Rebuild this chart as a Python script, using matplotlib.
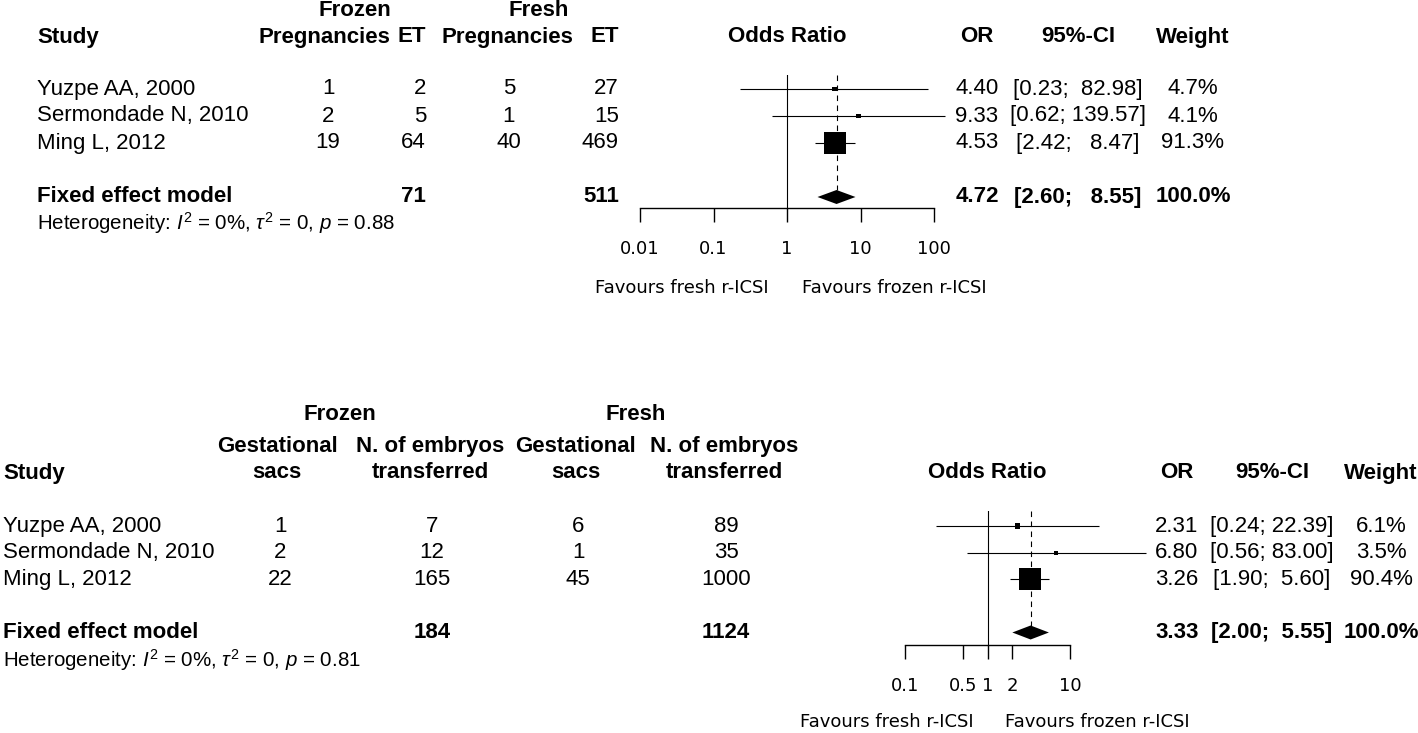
import matplotlib.pyplot as plt
from matplotlib.ticker import NullLocator
import numpy as np

W, H = 1418, 733
FS = 16
FS_HET = 14.8
FS_AX = 13

plt.rcParams['font.family'] = ['Liberation Sans', 'DejaVu Sans']
plt.rcParams['mathtext.fontset'] = 'custom'
plt.rcParams['mathtext.rm'] = 'Liberation Sans'
plt.rcParams['mathtext.it'] = 'Liberation Sans:italic'

studies = ["Yuzpe AA, 2000", "Sermondade N, 2010", "Ming L, 2012"]

# panel A: pregnancies per ET
a_ev_frozen = [1, 2, 19]
a_n_frozen = [2, 5, 64]
a_ev_fresh = [5, 1, 40]
a_n_fresh = [27, 15, 469]
a_or = [4.40, 9.33, 4.53]
a_lo = [0.23, 0.62, 2.42]
a_hi = [82.98, 139.57, 8.47]
a_w = [4.7, 4.1, 91.3]
a_fixed = [4.72, 2.60, 8.55]
a_tot = [71, 511]
a_het = ["0%", "0", "0.88"]
a_ticks = [0.01, 0.1, 1, 10, 100]

# panel B: gestational sacs per embryo transferred
b_ev_frozen = [1, 2, 22]
b_n_frozen = [7, 12, 165]
b_ev_fresh = [6, 1, 45]
b_n_fresh = [89, 35, 1000]
b_or = [2.31, 6.80, 3.26]
b_lo = [0.24, 0.56, 1.90]
b_hi = [22.39, 83.00, 5.60]
b_w = [6.1, 3.5, 90.4]
b_fixed = [3.33, 2.00, 5.55]
b_tot = [184, 1124]
b_het = ["0%", "0", "0.81"]
b_ticks = [0.1, 0.5, 1, 2, 10]

fig = plt.figure(figsize=(W / 100, H / 100), dpi=100)


def txt(x, y, s, ha='left', bold=False, size=FS, family=None):
    kw = {'family': family} if family else {}
    fig.text(x / W, 1 - y / H, s, ha=ha, va='center', fontsize=size,
             fontweight='bold' if bold else 'normal', **kw)


def ci_strings(lo, hi):
    los = [f"{v:.2f}" for v in lo]
    his = [f"{v:.2f}" for v in hi]
    wl = max(len(s) for s in los)
    wh = max(len(s) for s in his)
    return [f"[{a.rjust(wl)}; {b.rjust(wh)}]" for a, b in zip(los, his)]


def forest(x0, x1, lim, ticks, top_y, axis_y, ybase, row_h,
           orv, lo, hi, w, fixed, fav_y, fav_gap):
    k_top = (top_y - ybase) / row_h
    k_axis = (axis_y - ybase) / row_h
    ax = fig.add_axes([x0 / W, 1 - axis_y / H, (x1 - x0) / W, (axis_y - top_y) / H])
    ax.set_xscale('log')
    ax.set_xlim(lim)
    ax.set_ylim(k_axis, k_top)
    ax.patch.set_visible(False)
    for s in ['top', 'left', 'right']:
        ax.spines[s].set_visible(False)
    ax.spines['bottom'].set_linewidth(1.0)
    ax.set_yticks([])
    ax.set_xticks(ticks)
    ax.set_xticklabels([f"{t:g}" for t in ticks], family='DejaVu Sans', fontsize=FS_AX)
    ax.xaxis.set_minor_locator(NullLocator())
    ax.tick_params(axis='x', length=10, width=1.0, pad=13)

    rows = np.arange(1, len(orv) + 1)
    k_fix = len(orv) + 2
    dh = 7 / row_h
    ax.axvline(1, color='black', lw=0.8)
    ax.vlines(fixed[0], k_top, k_fix - dh, colors='black', lw=0.8,
              linestyles=(0, (5, 4)))
    ax.hlines(rows, lo, hi, colors='black', lw=0.8, clip_on=False)
    w = np.asarray(w)
    side = 22 * 0.72 * np.sqrt(w / w.max())
    ax.scatter(orv, rows, s=side ** 2, marker='s', c='black', linewidths=0,
               clip_on=False, zorder=3)
    ax.fill([fixed[1], fixed[0], fixed[2], fixed[0]],
            [k_fix, k_fix - dh, k_fix, k_fix + dh], color='black', lw=0)

    ref = x0 + (x1 - x0) * (np.log10(1) - np.log10(lim[0])) / (np.log10(lim[1]) - np.log10(lim[0]))
    txt(ref - fav_gap[0], fav_y, "Favours fresh r-ICSI", ha='right', size=FS_AX,
        family='DejaVu Sans')
    txt(ref + fav_gap[1], fav_y, "Favours frozen r-ICSI", ha='left', size=FS_AX,
        family='DejaVu Sans')
    return ref


# ---------- panel A ----------
ybA, rhA = 62, 27
txt(355, 10, "Frozen", ha='center', bold=True)
txt(539, 10, "Fresh", ha='center', bold=True)
txt(37, 37, "Study", bold=True)
txt(324, 37, "Pregnancies", ha='center', bold=True)
txt(426, 37, "ET", ha='right', bold=True)
txt(507, 37, "Pregnancies", ha='center', bold=True)
txt(619, 37, "ET", ha='right', bold=True)
txt(977, 37, "OR", ha='center', bold=True)
txt(1078, 37, "95%-CI", ha='center', bold=True)
txt(1193, 37, "Weight", ha='center', bold=True)

ciA = ci_strings(a_lo + [a_fixed[1]], a_hi + [a_fixed[2]])
for i, st in enumerate(studies):
    y = ybA + rhA * (i + 1)
    txt(37, y, st)
    txt(328, y, str(a_ev_frozen[i]), ha='center')
    txt(426, y, str(a_n_frozen[i]), ha='right')
    txt(509, y, str(a_ev_fresh[i]), ha='center')
    txt(619, y, str(a_n_fresh[i]), ha='right')
    txt(977, y, f"{a_or[i]:.2f}", ha='center')
    txt(1078, y, ciA[i], ha='center')
    txt(1193, y, f"{a_w[i]:.1f}%", ha='center')
yf = ybA + rhA * 5
txt(37, yf, "Fixed effect model", bold=True)
txt(426, yf, str(a_tot[0]), ha='right', bold=True)
txt(619, yf, str(a_tot[1]), ha='right', bold=True)
txt(977, yf, f"{a_fixed[0]:.2f}", ha='center', bold=True)
txt(1078, yf, ciA[-1], ha='center', bold=True)
txt(1193, yf, "100.0%", ha='center', bold=True)
txt(37, 223, r"Heterogeneity: $I^2$ = %s, $\tau^2$ = %s, $p$ = %s" % tuple(a_het),
    size=FS_HET)

refA = forest(640, 934, (0.01, 100), a_ticks, 75, 208, ybA, rhA,
              a_or, a_lo, a_hi, a_w, a_fixed, 288, (18, 15))
txt(refA, 37, "Odds Ratio", ha='center', bold=True)

# ---------- panel B ----------
ybB, rhB = 499.5, 26.6
txt(340, 415, "Frozen", ha='center', bold=True)
txt(636, 415, "Fresh", ha='center', bold=True)
txt(277, 447, "Gestational", ha='center', bold=True)
txt(277, 473, "sacs", ha='center', bold=True)
txt(430, 447, "N. of embryos", ha='center', bold=True)
txt(430, 473, "transferred", ha='center', bold=True)
txt(576, 447, "Gestational", ha='center', bold=True)
txt(576, 473, "sacs", ha='center', bold=True)
txt(724, 447, "N. of embryos", ha='center', bold=True)
txt(724, 473, "transferred", ha='center', bold=True)
txt(3, 473, "Study", bold=True)
txt(1177, 473, "OR", ha='center', bold=True)
txt(1272, 473, "95%-CI", ha='center', bold=True)
txt(1381, 473, "Weight", ha='center', bold=True)

ciB = ci_strings(b_lo + [b_fixed[1]], b_hi + [b_fixed[2]])
for i, st in enumerate(studies):
    y = ybB + rhB * (i + 1)
    txt(3, y, st)
    txt(280, y, str(b_ev_frozen[i]), ha='center')
    txt(432, y, str(b_n_frozen[i]), ha='center')
    txt(578, y, str(b_ev_fresh[i]), ha='center')
    txt(726, y, str(b_n_fresh[i]), ha='center')
    txt(1177, y, f"{b_or[i]:.2f}", ha='center')
    txt(1272, y, ciB[i], ha='center')
    txt(1381, y, f"{b_w[i]:.1f}%", ha='center')
yf = ybB + rhB * 5
txt(3, yf, "Fixed effect model", bold=True)
txt(432, yf, str(b_tot[0]), ha='center', bold=True)
txt(726, yf, str(b_tot[1]), ha='center', bold=True)
txt(1177, yf, f"{b_fixed[0]:.2f}", ha='center', bold=True)
txt(1272, yf, ciB[-1], ha='center', bold=True)
txt(1381, yf, "100.0%", ha='center', bold=True)
txt(3, 660, r"Heterogeneity: $I^2$ = %s, $\tau^2$ = %s, $p$ = %s" % tuple(b_het),
    size=FS_HET)

refB = forest(905, 1070, (0.1, 10), b_ticks, 511, 645, ybB, rhB,
              b_or, b_lo, b_hi, b_w, b_fixed, 722, (14, 18))
txt(refB, 473, "Odds Ratio", ha='center', bold=True)

fig.savefig("out.png", dpi=100, facecolor='white')
